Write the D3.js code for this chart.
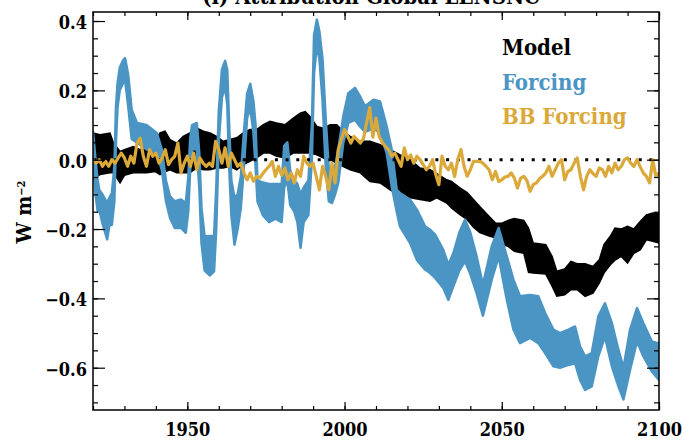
<!DOCTYPE html>
<html>
<head>
<meta charset="utf-8">
<script src="https://cdn.jsdelivr.net/npm/d3@7"></script>
<style>
  body { margin: 0; background: #fff; }
</style>
</head>
<body>
<div id="chart"></div>
<script>
// ---- data ----
const xMajor = [1950, 2000, 2050, 2100];
const xMinor = d3.range(1920, 2101, 10);
const yMajor = [-0.6, -0.4, -0.2, 0.0, 0.2, 0.4];
const yMinor = d3.range(-0.7, 0.41, 0.05);

const modelYears = [1920, 1922.2, 1925.4, 1926.5, 1928.6, 1930, 1932.8, 1935, 1937.1, 1939.7,
  1941.3, 1942.9, 1944.5, 1946.6, 1948.7, 1950.8, 1953, 1955.1, 1957.2, 1959.3,
  1961.4, 1963.5, 1965.7, 1967.8, 1969.9, 1972, 1974.2, 1976.3, 1978.4, 1981.1,
  1983.7, 1985.9, 1987.5, 1989, 1991.2, 1993.3, 1995.4, 1997.5, 1999.6, 2001.8,
  2005, 2008.1, 2011.3, 2014.5, 2017.7, 2020.9, 2024, 2027.2, 2029.3, 2032.5,
  2034, 2036.8, 2039, 2041, 2043, 2046, 2048, 2050, 2052, 2054,
  2057, 2058.5, 2060, 2064, 2066, 2067.5, 2070, 2072, 2074, 2076.5,
  2079, 2081, 2082.5, 2084.5, 2086, 2088, 2090, 2092, 2094, 2096, 2098, 2100];
const modelHigh = [0.077, 0.072, 0.077, 0.048, 0.024, 0.029, 0.038, 0.029, 0.034, 0.053,
  0.077, 0.082, 0.058, 0.048, 0.067, 0.077, 0.091, 0.082, 0.077, 0.067,
  0.053, 0.058, 0.063, 0.077, 0.087, 0.087, 0.101, 0.111, 0.106, 0.101,
  0.120, 0.134, 0.139, 0.125, 0.096, 0.091, 0.101, 0.101, 0.082, 0.067,
  0.053, 0.053, 0.043, 0.029, 0.014, 0.000, -0.024, -0.029, -0.040, -0.058,
  -0.063, -0.082, -0.095, -0.115, -0.135, -0.164, -0.183, -0.183, -0.175, -0.170,
  -0.175, -0.197, -0.240, -0.245, -0.279, -0.322, -0.315, -0.293, -0.300, -0.300,
  -0.308, -0.289, -0.245, -0.221, -0.197, -0.200, -0.192, -0.200, -0.178, -0.159, -0.154, -0.154];
const modelLow = [-0.058, -0.043, -0.038, -0.038, -0.067, -0.045, -0.038, -0.038, -0.038, -0.034,
  -0.043, -0.035, -0.029, -0.038, -0.038, -0.038, -0.024, -0.029, -0.029, -0.024,
  -0.024, -0.019, -0.029, -0.014, -0.005, 0.005, 0.019, 0.019, 0.010, 0.005,
  0.019, 0.019, 0.019, 0.019, 0.014, 0.005, 0.000, -0.010, -0.020, -0.029,
  -0.038, -0.063, -0.067, -0.087, -0.105, -0.110, -0.115, -0.120, -0.110, -0.125,
  -0.139, -0.159, -0.173, -0.195, -0.210, -0.220, -0.225, -0.245, -0.250, -0.264,
  -0.270, -0.325, -0.327, -0.330, -0.365, -0.394, -0.390, -0.375, -0.375, -0.394,
  -0.385, -0.356, -0.327, -0.303, -0.290, -0.279, -0.298, -0.270, -0.260, -0.231, -0.235, -0.240];

const forcingYears = [1920, 1920.8, 1921.5, 1922, 1923, 1924.5, 1925.2, 1926, 1926.8, 1927.3,
  1927.8, 1928.5, 1929.5, 1930.2, 1931.2, 1932.3, 1934, 1937, 1940.3, 1941.9,
  1943.2, 1944.5, 1946, 1948, 1949.5, 1950.3, 1950.9, 1951.5, 1953, 1953.8,
  1954.5, 1955.5, 1957.2, 1958.5, 1959.2, 1960, 1961, 1962, 1962.7, 1963.3,
  1964, 1965, 1966, 1967, 1968, 1969, 1970, 1971, 1971.7, 1972.3,
  1974, 1976, 1978, 1980, 1980.8, 1981.8, 1982.7, 1984, 1985, 1986,
  1987, 1988.5, 1989.6, 1990.3, 1991.2, 1992, 1993, 1994, 1995, 1996,
  1997, 1998, 1999.6, 2001.2, 2003.3, 2004.9, 2006.5, 2009.2, 2011.3, 2013.4,
  2015, 2016.6, 2017.6, 2020.8, 2023, 2025.6, 2027.2, 2028.8, 2031.4, 2033,
  2034.6, 2036.5, 2038.3, 2040, 2042, 2044, 2046.8, 2049, 2051.6, 2053.7,
  2055.8, 2059, 2061.6, 2063.8, 2066.4, 2068.5, 2071.2, 2073.3, 2074.9, 2076.5,
  2078.6, 2080.7, 2082.8, 2085, 2087.1, 2088.7, 2090.8, 2093, 2095, 2097.7, 2100];
const forcingHigh = [0.080, 0.000, -0.060, -0.087, -0.100, -0.125, -0.110, -0.096, -0.020, 0.150,
  0.220, 0.265, 0.285, 0.293, 0.245, 0.144, 0.106, 0.100, 0.077, 0.030,
  -0.060, -0.106, -0.120, -0.115, -0.125, -0.050, 0.060, 0.100, 0.106, 0.020,
  -0.139, -0.221, -0.220, -0.220, -0.080, 0.140, 0.260, 0.285, 0.260, 0.100,
  -0.060, -0.110, -0.100, -0.050, 0.080, 0.190, 0.219, 0.170, 0.100, -0.060,
  -0.066, -0.070, -0.070, -0.070, 0.040, 0.050, -0.030, -0.060, -0.070, -0.100,
  -0.080, -0.060, 0.100, 0.360, 0.404, 0.370, 0.290, 0.120, -0.030, -0.050,
  -0.020, 0.030, 0.125, 0.192, 0.207, 0.183, 0.154, 0.173, 0.168, 0.096,
  0.029, -0.087, -0.096, -0.115, -0.144, -0.192, -0.202, -0.216, -0.260, -0.303,
  -0.270, -0.210, -0.173, -0.210, -0.279, -0.360, -0.250, -0.197, -0.279, -0.346,
  -0.394, -0.390, -0.394, -0.442, -0.490, -0.500, -0.490, -0.481, -0.539, -0.567,
  -0.558, -0.452, -0.414, -0.471, -0.548, -0.601, -0.490, -0.428, -0.471, -0.524, -0.530];
const forcingLow = [0.000, -0.100, -0.150, -0.144, -0.183, -0.230, -0.190, -0.188, -0.120, 0.050,
  0.150, 0.200, 0.220, 0.230, 0.154, 0.060, 0.049, 0.030, 0.020, -0.030,
  -0.120, -0.168, -0.197, -0.197, -0.211, -0.150, -0.030, 0.030, 0.030, -0.080,
  -0.240, -0.320, -0.334, -0.322, -0.200, 0.050, 0.180, 0.210, 0.160, -0.020,
  -0.160, -0.245, -0.200, -0.140, -0.020, 0.120, 0.150, 0.080, -0.020, -0.120,
  -0.160, -0.180, -0.170, -0.180, -0.080, -0.060, -0.130, -0.150, -0.180, -0.254,
  -0.180, -0.160, 0.000, 0.250, 0.330, 0.290, 0.170, -0.020, -0.120, -0.125,
  -0.100, -0.067, 0.049, 0.106, 0.115, 0.096, 0.080, 0.090, 0.077, 0.019,
  -0.077, -0.150, -0.192, -0.240, -0.289, -0.317, -0.327, -0.341, -0.370, -0.404,
  -0.365, -0.320, -0.293, -0.330, -0.385, -0.450, -0.346, -0.279, -0.404, -0.490,
  -0.529, -0.514, -0.529, -0.558, -0.596, -0.600, -0.592, -0.587, -0.635, -0.664,
  -0.654, -0.567, -0.510, -0.596, -0.654, -0.692, -0.606, -0.524, -0.567, -0.611, -0.635];

// BB forcing, one value per year from 1920 to 2100
const bbStartYear = 1920;
const bbValues = [
  0.000, -0.010, 0.000, -0.019, -0.005, -0.019, 0.000, -0.010, 0.005, 0.019,
  0.005, -0.019, 0.010, -0.010, 0.048, 0.062, 0.010, -0.019, 0.029, 0.010,
  0.019, -0.010, 0.005, 0.029, -0.014, 0.000, 0.010, 0.048, -0.038, -0.010,
  0.010, -0.019, 0.019, -0.029, 0.005, -0.010, -0.019, -0.010, -0.019, 0.053,
  0.029, -0.010, 0.034, -0.019, 0.019, 0.000, -0.019, -0.010, -0.038, -0.058,
  -0.038, -0.062, -0.048, -0.053, -0.040, -0.029, -0.019, -0.005, -0.048, -0.019,
  -0.045, -0.024, -0.058, -0.038, -0.067, -0.029, -0.048, 0.010, -0.010, -0.019,
  -0.010, -0.048, -0.087, -0.019, -0.048, -0.087, -0.010, -0.067, 0.029, 0.058,
  0.087, 0.067, 0.048, 0.067, 0.058, 0.048, 0.060, 0.106, 0.150, 0.065,
  0.120, 0.067, 0.050, 0.038, 0.029, 0.010, 0.019, 0.000, -0.019, 0.034,
  0.000, 0.014, -0.010, 0.010, 0.000, -0.014, -0.029, -0.019, 0.000, -0.043,
  -0.072, 0.010, -0.019, -0.029, -0.010, -0.048, 0.000, 0.029, -0.019, -0.048,
  -0.029, -0.005, -0.005, -0.005, -0.010, -0.019, -0.030, -0.058, -0.034, -0.063,
  -0.058, -0.050, -0.048, -0.038, -0.053, -0.082, -0.053, -0.048, -0.060, -0.091,
  -0.072, -0.067, -0.055, -0.048, -0.038, -0.019, -0.048, -0.029, -0.010, 0.000,
  -0.058, -0.034, -0.029, -0.010, 0.005, -0.048, -0.087, -0.048, -0.029, -0.040,
  -0.048, -0.024, -0.029, -0.048, -0.019, -0.038, -0.010, -0.029, -0.019, 0.000,
  0.005, -0.010, -0.019, 0.000, -0.020, -0.038, -0.048, -0.067, 0.000, -0.048,
  -0.038];

const legendNames = ["Model", "Forcing", "BB Forcing"];
const colors = {model: "#000000", forcing: "#4b95c4", bb: "#dba93a"};
const serif = "'DejaVu Serif Condensed', 'DejaVu Serif', serif";

// ---- layout ----
const W = 684, H = 441;
const margin = {top: 12, right: 25, bottom: 31, left: 93};
const width = W - margin.left - margin.right;
const height = H - margin.top - margin.bottom;

const svg = d3.select("#chart").append("svg")
    .attr("width", W)
    .attr("height", H);

const g = svg.append("g")
    .attr("transform", "translate(" + margin.left + "," + margin.top + ")");

const x = d3.scaleLinear().domain([1920, 2100]).range([0, width]);
const y = d3.scaleLinear().domain([-0.722, 0.426]).range([height, 0]);

g.append("clipPath").attr("id", "clip")
  .append("rect").attr("width", width).attr("height", height);

const plot = g.append("g").attr("clip-path", "url(#clip)");

const modelData = modelYears.map((yr, i) => ({yr, hi: modelHigh[i], lo: modelLow[i]}));
const forcingData = forcingYears.map((yr, i) => ({yr, hi: forcingHigh[i], lo: forcingLow[i]}));
const bbData = bbValues.map((v, i) => ({yr: bbStartYear + i, v}));

const band = d3.area()
    .x(d => x(d.yr))
    .y0(d => y(d.lo))
    .y1(d => y(d.hi));

plot.append("path")
    .datum(modelData)
    .attr("d", band)
    .attr("fill", colors.model)
    .attr("stroke", colors.model)
    .attr("stroke-width", 1.5);

plot.append("path")
    .datum(forcingData)
    .attr("d", band)
    .attr("fill", colors.forcing)
    .attr("stroke", colors.forcing)
    .attr("stroke-width", 2.5)
    .attr("stroke-linejoin", "round");

// zero line (dotted)
plot.append("line")
    .attr("x1", 0).attr("x2", width)
    .attr("y1", y(0)).attr("y2", y(0))
    .attr("stroke", "#000")
    .attr("stroke-width", 3)
    .attr("stroke-dasharray", "3 7.7");

plot.append("path")
    .datum(bbData)
    .attr("d", d3.line().x(d => x(d.yr)).y(d => y(d.v)))
    .attr("fill", "none")
    .attr("stroke", colors.bb)
    .attr("stroke-width", 3.2)
    .attr("stroke-linejoin", "round");

// ---- axes ----
const fmt = d3.format(".1f");

function styleAxis(sel) {
    sel.attr("font-family", serif).attr("font-weight", "bold");
    sel.select(".domain").remove();
    sel.selectAll("line").attr("stroke", "#000").attr("stroke-width", 1.2);
    sel.selectAll("text")
        .style("font-family", serif)
        .style("font-weight", "bold")
        .style("font-size", "18px")
        .attr("fill", "#000");
}

g.append("g")
    .attr("transform", "translate(0," + height + ")")
    .call(d3.axisBottom(x).tickValues(xMinor).tickSize(-4).tickFormat(""))
    .call(styleAxis);
g.append("g")
    .attr("transform", "translate(0," + height + ")")
    .call(d3.axisBottom(x).tickValues(xMajor).tickSize(-8).tickPadding(13).tickFormat(d3.format("d")))
    .call(styleAxis);
g.append("g")
    .call(d3.axisTop(x).tickValues(xMinor).tickSize(-4).tickFormat(""))
    .call(styleAxis);
g.append("g")
    .call(d3.axisTop(x).tickValues(xMajor).tickSize(-8).tickFormat(""))
    .call(styleAxis);

g.append("g")
    .call(d3.axisLeft(y).tickValues(yMinor).tickSize(-5).tickFormat(""))
    .call(styleAxis);
g.append("g")
    .call(d3.axisLeft(y).tickValues(yMajor).tickSize(-12).tickPadding(6).tickFormat(fmt))
    .call(styleAxis)
    .selectAll("text").attr("dy", "0.42em");
g.append("g")
    .attr("transform", "translate(" + width + ",0)")
    .call(d3.axisRight(y).tickValues(yMinor).tickSize(-5).tickFormat(""))
    .call(styleAxis);
g.append("g")
    .attr("transform", "translate(" + width + ",0)")
    .call(d3.axisRight(y).tickValues(yMajor).tickSize(-12).tickFormat(""))
    .call(styleAxis);

// frame
g.append("rect")
    .attr("width", width).attr("height", height)
    .attr("fill", "none")
    .attr("stroke", "#000")
    .attr("stroke-width", 1.5);

// y label
const yl = svg.append("text")
    .attr("transform", "translate(31,212) rotate(-90)")
    .attr("text-anchor", "middle")
    .style("font-family", serif)
    .style("font-weight", "bold")
    .style("font-size", "21px");
yl.append("tspan").text("W m");
yl.append("tspan").attr("dy", "-0.55em").style("font-size", "11px").text("−2");

// title, partly above the top edge as in the original
svg.append("text")
    .attr("x", 371).attr("y", 4)
    .attr("text-anchor", "middle")
    .style("font-family", serif)
    .style("font-weight", "bold")
    .style("font-size", "22px")
    .text("(l) Attribution Global LENSNC");

// legend
const legendColors = [colors.model, colors.forcing, colors.bb];
svg.selectAll(".legend")
    .data(legendNames)
    .enter()
    .append("text")
    .attr("class", "legend")
    .attr("x", 502)
    .attr("y", (d, i) => 55 + i * 34.5)
    .style("font-family", serif)
    .style("font-weight", "bold")
    .style("font-size", "22px")
    .attr("fill", (d, i) => legendColors[i])
    .text(d => d);
</script>
</body>
</html>
